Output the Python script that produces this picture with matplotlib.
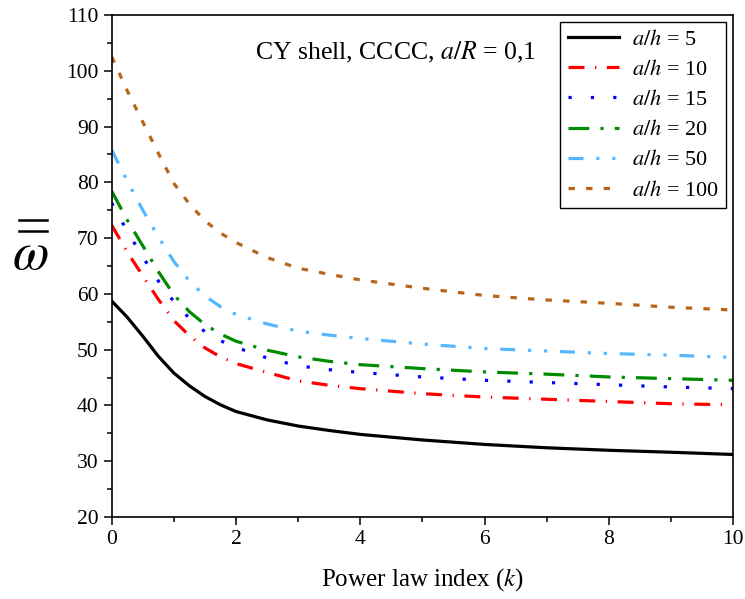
import matplotlib
matplotlib.use("Agg")
import matplotlib.pyplot as plt
from matplotlib.lines import Line2D
from matplotlib.ticker import MultipleLocator

plt.rcParams["font.family"] = ["Liberation Serif", "DejaVu Serif"]
plt.rcParams["mathtext.fontset"] = "stix"

# power law index k
k = [0, 0.25, 0.5, 0.75, 1, 1.25, 1.5, 1.75, 2, 2.5, 3, 3.5, 4, 5, 6, 7, 8, 9, 10]

# dimensionless frequency for each a/h
w_5 = [58.7, 55.8, 52.4, 48.8, 45.8, 43.5, 41.6, 40.1, 38.9, 37.4, 36.3, 35.5,
       34.8, 33.8, 33.0, 32.4, 31.95, 31.6, 31.2]
w_10 = [72.3, 67.5, 63.2, 59.0, 55.2, 52.5, 50.3, 48.7, 47.5, 45.9, 44.4, 43.6,
        43.0, 42.1, 41.5, 41.1, 40.7, 40.3, 40.1]
w_15 = [76.3, 71.2, 66.6, 62.3, 58.6, 55.6, 53.2, 51.6, 50.4, 48.5, 47.1, 46.4,
        45.9, 45.1, 44.5, 44.1, 43.7, 43.3, 43.0]
w_20 = [78.4, 73.2, 68.6, 64.0, 59.8, 56.8, 54.5, 52.8, 51.5, 49.9, 48.7, 47.9,
        47.3, 46.6, 46.0, 45.6, 45.1, 44.8, 44.5]
w_50 = [85.8, 80.2, 75.0, 70.2, 65.8, 62.3, 59.6, 57.7, 56.3, 54.6, 53.3, 52.6,
        52.0, 51.0, 50.2, 49.75, 49.3, 49.0, 48.6]
w_100 = [102.5, 96.4, 90.8, 85.2, 79.8, 76.1, 73.1, 70.9, 69.2, 66.5, 64.6, 63.5,
         62.5, 61.0, 59.7, 58.9, 58.3, 57.6, 57.1]

series = [
    (w_5, "5", "black", "-"),
    (w_10, "10", "#ff0000", (0, (5, 3.3, 0.4, 3.3))),
    (w_15, "15", "#0000ff", (0, (1, 6))),
    (w_20, "20", "#008c00", (0, (6.5, 3.5, 1, 3.5))),
    (w_50, "50", "#55b8ff", (0, (4.7, 4, 1, 4, 1, 4))),
    (w_100, "100", "#b8651a", (0, (2, 3.5))),
]

fig = plt.figure(figsize=(7.45, 5.99), dpi=100)
ax = fig.add_axes([0.150, 0.137, 0.834, 0.838])

for vals, lab, col, ls in series:
    ax.plot(k, vals, color=col, linestyle=ls, linewidth=2.3,
            label=r"$a/h$ = " + lab)

ax.set_xlim(0, 10)
ax.set_ylim(20, 110)
ax.xaxis.set_major_locator(MultipleLocator(2))
ax.xaxis.set_minor_locator(MultipleLocator(1))
ax.yaxis.set_major_locator(MultipleLocator(10))
ax.yaxis.set_minor_locator(MultipleLocator(5))
ax.tick_params(which="major", direction="out", length=6, width=1.1,
               labelsize=15.5, top=False, right=False)
ax.tick_params(which="minor", direction="out", length=3.5, width=1.1,
               top=False, right=False)
for sp in ax.spines.values():
    sp.set_linewidth(1.2)

ax.set_xlabel(r"Power law index ($k$)", fontsize=18, labelpad=12)

# y label: omega with a double bar
fig.text(0.040, 0.572, r"$\omega$", fontsize=38, ha="center", va="center")
for yb in (0.633, 0.615):
    fig.add_artist(Line2D([0.025, 0.063], [yb, yb], color="black",
                          linewidth=1.8, transform=fig.transFigure))

ax.text(4.56, 103.2, r"CY shell, CCCC, $a/R$ = 0,1", fontsize=18.5,
        ha="center", va="center")

leg = ax.legend(loc="upper right", fontsize=16, handlelength=2.3,
                labelspacing=0.43, borderpad=0.35, handletextpad=0.6,
                fancybox=False, framealpha=1, borderaxespad=0.3)
leg.get_frame().set_edgecolor("black")
leg.get_frame().set_linewidth(1.0)

fig.savefig("out.png", dpi=100)
